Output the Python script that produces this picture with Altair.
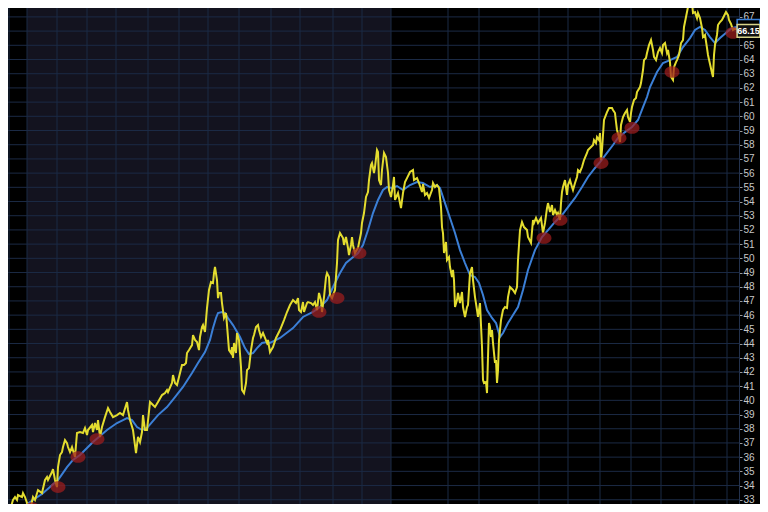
import altair as alt
import pandas as pd

# ---- data (x = trading-day position, y = price) ----
price_day = [10, 13, 15, 17, 18, 22, 23, 25, 27, 29, 31, 33, 35, 38, 42, 45, 47, 48, 52, 53, 55, 57, 58, 60, 62, 63, 65, 67, 68, 70,
             72, 75, 77, 80, 83, 85, 87, 88, 92, 93, 95, 97, 98, 100, 102, 105, 108, 110, 113, 117, 120, 123, 127, 128, 130, 133, 136, 138, 140, 142,
             143, 145, 147, 150, 153, 155, 158, 162, 165, 167, 168, 172, 173, 175, 177, 179, 182, 184, 186, 187, 189, 192, 193, 195, 197, 199, 200, 202, 203, 205,
             207, 209, 211, 213, 214, 215, 217, 218, 219, 221, 222, 224, 226, 227, 229, 231, 232, 233, 234, 236, 237, 239, 241, 242, 244, 246, 247, 249, 251, 253,
             254, 256, 258, 259, 261, 263, 265, 267, 268, 270, 273, 276, 280, 284, 287, 290, 293, 296, 298, 299, 301, 303, 304, 307, 308, 311, 313, 315, 317, 319,
             321, 322, 324, 326, 327, 329, 330, 332, 335, 337, 338, 340, 343, 344, 346, 348, 349, 351, 352, 353, 355, 358, 361, 362, 364, 366, 368, 369, 371, 372,
             374, 375, 377, 378, 379, 381, 382, 384, 386, 388, 389, 391, 393, 394, 395, 398, 401, 403, 405, 407, 410, 413, 414, 417, 419, 422, 423, 425, 427, 429,
             432, 433, 435, 437, 439, 441, 442, 443, 444, 446, 447, 449, 450, 452, 453, 454, 455, 457, 458, 460, 462, 463, 465, 467, 468, 470, 472, 473, 475, 477,
             478, 480, 482, 483, 484, 486, 487, 488, 489, 490, 491, 492, 493, 495, 496, 497, 498, 499, 501, 503, 505, 507, 508, 510, 513, 515, 517, 518, 520, 522,
             524, 527, 528, 531, 533, 534, 536, 538, 541, 543, 545, 547, 548, 550, 552, 553, 555, 557, 558, 560, 561, 562, 563, 565, 567, 568, 570, 572, 573, 575,
             577, 578, 580, 582, 584, 587, 588, 591, 593, 594, 596, 597, 599, 600, 601, 602, 604, 607, 609, 612, 613, 615, 616, 617, 619, 620, 621, 623, 625, 627,
             628, 630, 631, 632, 634, 636, 637, 640, 641, 643, 644, 646, 647, 649, 651, 653, 654, 656, 658, 660, 662, 663, 665, 667, 668, 670, 671, 673, 674, 676,
             677, 679, 681, 683, 684, 686, 688, 690, 692, 693, 695, 697, 698, 700, 702, 703, 705, 707, 708, 710, 712, 713, 714, 715, 717, 718, 720, 722, 724, 726,
             728, 729, 731, 733, 735, 737]
price_val = [32.27, 32.98, 33.19, 32.98, 33.33, 33.19, 33.47, 33.19, 32.77, 32.27, 32.56, 33.19, 32.98, 33.68, 33.47, 34.39, 34.60, 34.39, 34.95, 35.16,
             34.39, 33.89, 35.30, 36.15, 36.36, 36.71, 37.20, 36.99, 36.71, 36.36, 36.71, 36.01, 37.70, 37.77, 37.70, 38.05, 37.56, 37.91, 38.26, 37.77,
             38.40, 37.91, 38.61, 37.42, 38.12, 38.82, 39.46, 39.18, 38.82, 38.96, 39.11, 38.96, 39.88, 39.32, 38.61, 37.91, 36.29, 37.42, 37.06, 37.77,
             38.96, 37.91, 37.91, 39.88, 39.67, 39.53, 39.88, 40.37, 40.51, 40.73, 40.58, 41.22, 41.78, 41.22, 41.08, 41.64, 42.49, 42.49, 42.63, 43.33,
             43.54, 43.89, 44.60, 44.25, 44.11, 43.54, 44.46, 45.16, 45.30, 44.81, 46.50, 47.77, 48.33, 48.26, 48.96, 49.39, 48.47, 47.20, 47.56, 47.56,
             46.85, 45.80, 46.15, 45.30, 43.54, 43.33, 43.75, 42.98, 44.04, 43.33, 44.74, 44.25, 42.34, 40.73, 40.51, 41.22, 42.13, 42.27, 43.54, 44.39,
             44.60, 45.16, 45.30, 44.95, 44.46, 44.74, 44.39, 44.04, 44.25, 43.40, 43.75, 44.39, 44.95, 45.65, 46.22, 46.71, 47.06, 46.85, 47.20, 46.36,
             46.22, 46.92, 46.22, 46.85, 46.92, 46.85, 46.71, 46.92, 46.36, 47.56, 47.06, 46.22, 47.27, 48.68, 48.96, 48.68, 47.42, 47.20, 47.77, 49.67,
             51.29, 51.78, 51.43, 50.94, 51.50, 50.73, 50.23, 50.94, 51.50, 50.94, 50.37, 50.73, 51.78, 52.49, 53.19, 54.32, 54.67, 55.51, 56.57, 56.71,
             56.01, 56.43, 57.63, 57.49, 55.51, 55.16, 56.22, 57.42, 57.13, 56.01, 54.81, 54.32, 55.16, 55.73, 54.11, 54.60, 53.54, 54.60, 55.37, 55.65,
             56.08, 56.22, 55.51, 55.65, 55.30, 54.67, 55.23, 54.46, 54.60, 54.25, 54.81, 55.30, 55.02, 55.16, 54.95, 53.61, 52.20, 51.78, 50.37, 51.15,
             49.88, 50.09, 49.39, 48.68, 49.18, 48.47, 46.57, 47.06, 47.56, 46.85, 47.63, 46.57, 45.87, 46.57, 46.71, 48.96, 49.39, 48.47, 47.27, 46.36,
             45.87, 46.85, 43.75, 41.43, 41.22, 41.29, 40.51, 43.05, 45.44, 45.16, 44.46, 44.95, 44.04, 42.63, 42.84, 41.22, 42.13, 44.25, 45.65, 46.36,
             46.57, 46.50, 47.27, 47.98, 47.77, 47.56, 47.98, 49.88, 51.99, 52.56, 52.20, 51.99, 51.50, 51.08, 52.70, 52.49, 52.84, 52.49, 52.84, 51.78,
             52.49, 53.54, 53.89, 53.26, 53.75, 53.05, 53.40, 53.05, 53.19, 52.70, 53.89, 54.67, 55.02, 55.51, 54.46, 55.16, 55.51, 55.02, 54.81, 55.30,
             55.73, 56.22, 56.08, 56.43, 56.92, 57.42, 57.63, 57.84, 57.98, 58.33, 58.12, 58.54, 58.33, 58.82, 56.92, 57.63, 59.74, 60.30, 60.58, 60.58,
             60.44, 60.23, 59.60, 59.04, 58.54, 58.19, 59.39, 59.95, 60.23, 60.44, 59.95, 59.60, 60.23, 60.65, 61.15, 61.29, 61.71, 62.06, 62.34, 63.26,
             63.96, 64.11, 64.46, 65.02, 65.37, 64.67, 64.18, 63.96, 64.53, 64.81, 64.46, 65.02, 65.16, 64.46, 64.67, 63.82, 62.77, 62.56, 63.47, 63.82,
             63.96, 64.32, 65.16, 65.37, 66.29, 66.99, 67.70, 68.40, 67.98, 67.27, 67.34, 66.92, 67.27, 66.92, 66.22, 65.58, 65.73, 64.81, 64.32, 63.68,
             63.05, 62.77, 64.32, 65.02, 65.73, 66.43, 66.64, 66.78, 67.06, 67.34, 67.13, 66.78, 66.50, 66.08, 66.15, 66.15]

ma_day = [17, 23, 33, 42, 50, 58, 67, 73, 80, 87, 93, 100, 107, 117, 123, 127, 132, 137, 142, 147, 152, 158, 167, 175, 183, 192, 198, 205, 210, 213,
          216, 218, 222, 225, 228, 233, 240, 245, 249, 253, 257, 262, 267, 270, 280, 293, 303, 313, 320, 327, 333, 340, 346, 352, 358, 363, 368, 373, 378, 383,
          387, 392, 397, 403, 410, 417, 423, 430, 437, 440, 445, 450, 455, 460, 465, 470, 475, 479, 483, 487, 492, 496, 500, 503, 508, 513, 518, 523, 528, 535,
          542, 548, 555, 562, 568, 575, 582, 588, 595, 600, 607, 613, 618, 625, 632, 638, 643, 647, 650, 657, 663, 670, 677, 683, 690, 695, 700, 705, 710, 715,
          720, 727, 732, 737]
ma_val = [32.13, 32.49, 32.98, 33.40, 33.89, 34.39, 35.30, 35.80, 36.15, 36.64, 37.06, 37.49, 37.91, 38.40, 38.61, 38.75, 38.61, 38.12, 37.91, 38.05,
          38.47, 38.96, 39.53, 40.23, 40.94, 41.92, 42.63, 43.40, 44.25, 45.09, 45.80, 46.15, 46.22, 46.15, 45.80, 45.30, 44.46, 43.68, 43.26, 43.33,
          43.68, 44.04, 44.11, 44.04, 44.39, 45.09, 45.87, 46.22, 46.57, 47.06, 47.98, 48.96, 49.67, 50.02, 50.37, 50.94, 51.99, 53.19, 54.11, 54.81,
          55.02, 54.95, 55.09, 54.81, 55.16, 55.37, 55.30, 55.02, 55.16, 54.95, 53.89, 52.84, 51.78, 50.58, 49.67, 48.82, 48.68, 48.26, 47.42, 46.36,
          45.80, 45.44, 44.46, 44.74, 45.44, 46.01, 46.57, 47.77, 49.18, 50.58, 51.50, 51.99, 52.56, 53.05, 53.61, 54.25, 55.02, 55.73, 56.36, 56.78,
          57.42, 57.98, 58.47, 58.89, 59.25, 59.74, 60.65, 61.36, 62.06, 63.12, 63.75, 63.96, 64.18, 64.88, 65.51, 66.08, 66.29, 66.08, 65.58, 65.16,
          65.51, 65.94, 66.22, 66.29]

signal_day = [32, 58, 78, 97, 319, 337, 359, 544, 560, 601, 619, 632, 672, 733]
signal_val = [32.41, 33.89, 36.01, 37.27, 46.22, 47.20, 50.37, 51.43, 52.70, 56.71, 58.47, 59.18, 63.12, 65.87]

month_starts = [9, 27, 57, 87, 116, 148, 179, 208, 239, 271, 300, 333, 362, 391, 448, 479, 539, 568, 600, 631, 661, 694, 727]
price_levels = list(range(33, 69))
label_levels = [v for v in price_levels if v != 66]   # 66 sits under the last-price tag
year_band_start = [27]
year_band_end = [391]
last_price = 66.15
last_ma = 66.29

# ---- chart ----
W, H = 731, 496
xs = alt.Scale(domain=[8, 739], nice=False, zero=False)
ys = alt.Scale(domain=[32.70, 67.627], nice=False, zero=False)
y_axis = alt.Axis(orient="right", values=label_levels, grid=False, tickSize=3, tickColor="#9a9a9a",
                  labelColor="#c8c8c8", labelFont="Liberation Sans", labelFontSize=10, labelPadding=1,
                  domainColor="#24324d", title=None, labelOverlap=False, labelFlush=False)
GRID = "#1b2a45"


def X(field):
    return alt.X(field, type="quantitative", scale=xs, axis=None)


def Y(field):
    return alt.Y(field, type="quantitative", scale=ys, axis=y_axis)


price_df = pd.DataFrame({"day": price_day, "price": price_val})
ma_df = pd.DataFrame({"day": ma_day, "ma": ma_val})
sig_df = pd.DataFrame({"day": signal_day, "val": signal_val})
month_df = pd.DataFrame({"day": month_starts})
lvl_df = pd.DataFrame({"level": price_levels})
band_df = pd.DataFrame({"start": year_band_start, "end": year_band_end})
last_df = pd.DataFrame({"day": [price_day[-1]], "price": [last_price], "ma": [last_ma],
                        "label": [f"{last_price:.2f}"]})

band = alt.Chart(band_df).mark_rect(color="#13131f").encode(x=X("start"), x2="end")
vgrid = alt.Chart(month_df).mark_rule(color=GRID, strokeWidth=1).encode(x=X("day"))
hgrid = alt.Chart(lvl_df).mark_rule(color=GRID, strokeWidth=1).encode(y=Y("level"))
ma_line = alt.Chart(ma_df).mark_line(color="#3b7fd6", strokeWidth=2, clip=True).encode(x=X("day"), y=Y("ma"))
price_line = alt.Chart(price_df).mark_line(color="#e3dc2f", strokeWidth=2, clip=True).encode(x=X("day"), y=Y("price"))
ellipse = "M-1.15,0 A1.15,0.9 0 1,0 1.15,0 A1.15,0.9 0 1,0 -1.15,0 Z"
signals = alt.Chart(sig_df).mark_point(shape=ellipse, size=169, filled=True, color="#9e1d1d",
                                       opacity=0.72, clip=True).encode(x=X("day"), y=Y("val"))
box = "M-1.42,-0.8 L1.42,-0.8 L1.42,0.8 L-1.42,0.8 Z"
ma_box = alt.Chart(last_df).mark_point(shape=box, size=256, filled=False, fill="#000000", fillOpacity=1,
                                       stroke="#3b7fd6", strokeWidth=1.5, xOffset=11.5, yOffset=-1).encode(
    x=X("day"), y=Y("ma"))
price_box = alt.Chart(last_df).mark_point(shape=box, size=256, filled=False, fill="#111111", fillOpacity=1,
                                          stroke="#d8d48a", strokeWidth=1.5, xOffset=11.5, yOffset=2).encode(
    x=X("day"), y=Y("price"))
price_text = alt.Chart(last_df).mark_text(font="Liberation Sans", fontSize=9, fontWeight="bold",
                                          color="#ffffff", xOffset=11.5, yOffset=2).encode(
    x=X("day"), y=Y("price"), text="label:N")

chart = alt.layer(band, vgrid, hgrid, ma_line, price_line, signals, ma_box, price_box, price_text).properties(
    width=W, height=H,
    autosize=alt.AutoSizeParams(type="none"),
    padding={"left": 0, "top": 0, "right": 21, "bottom": 0},
    background="#000000",
).configure_view(stroke=None)

chart.save("out.html", embed_options={"renderer": "svg", "actions": False})
